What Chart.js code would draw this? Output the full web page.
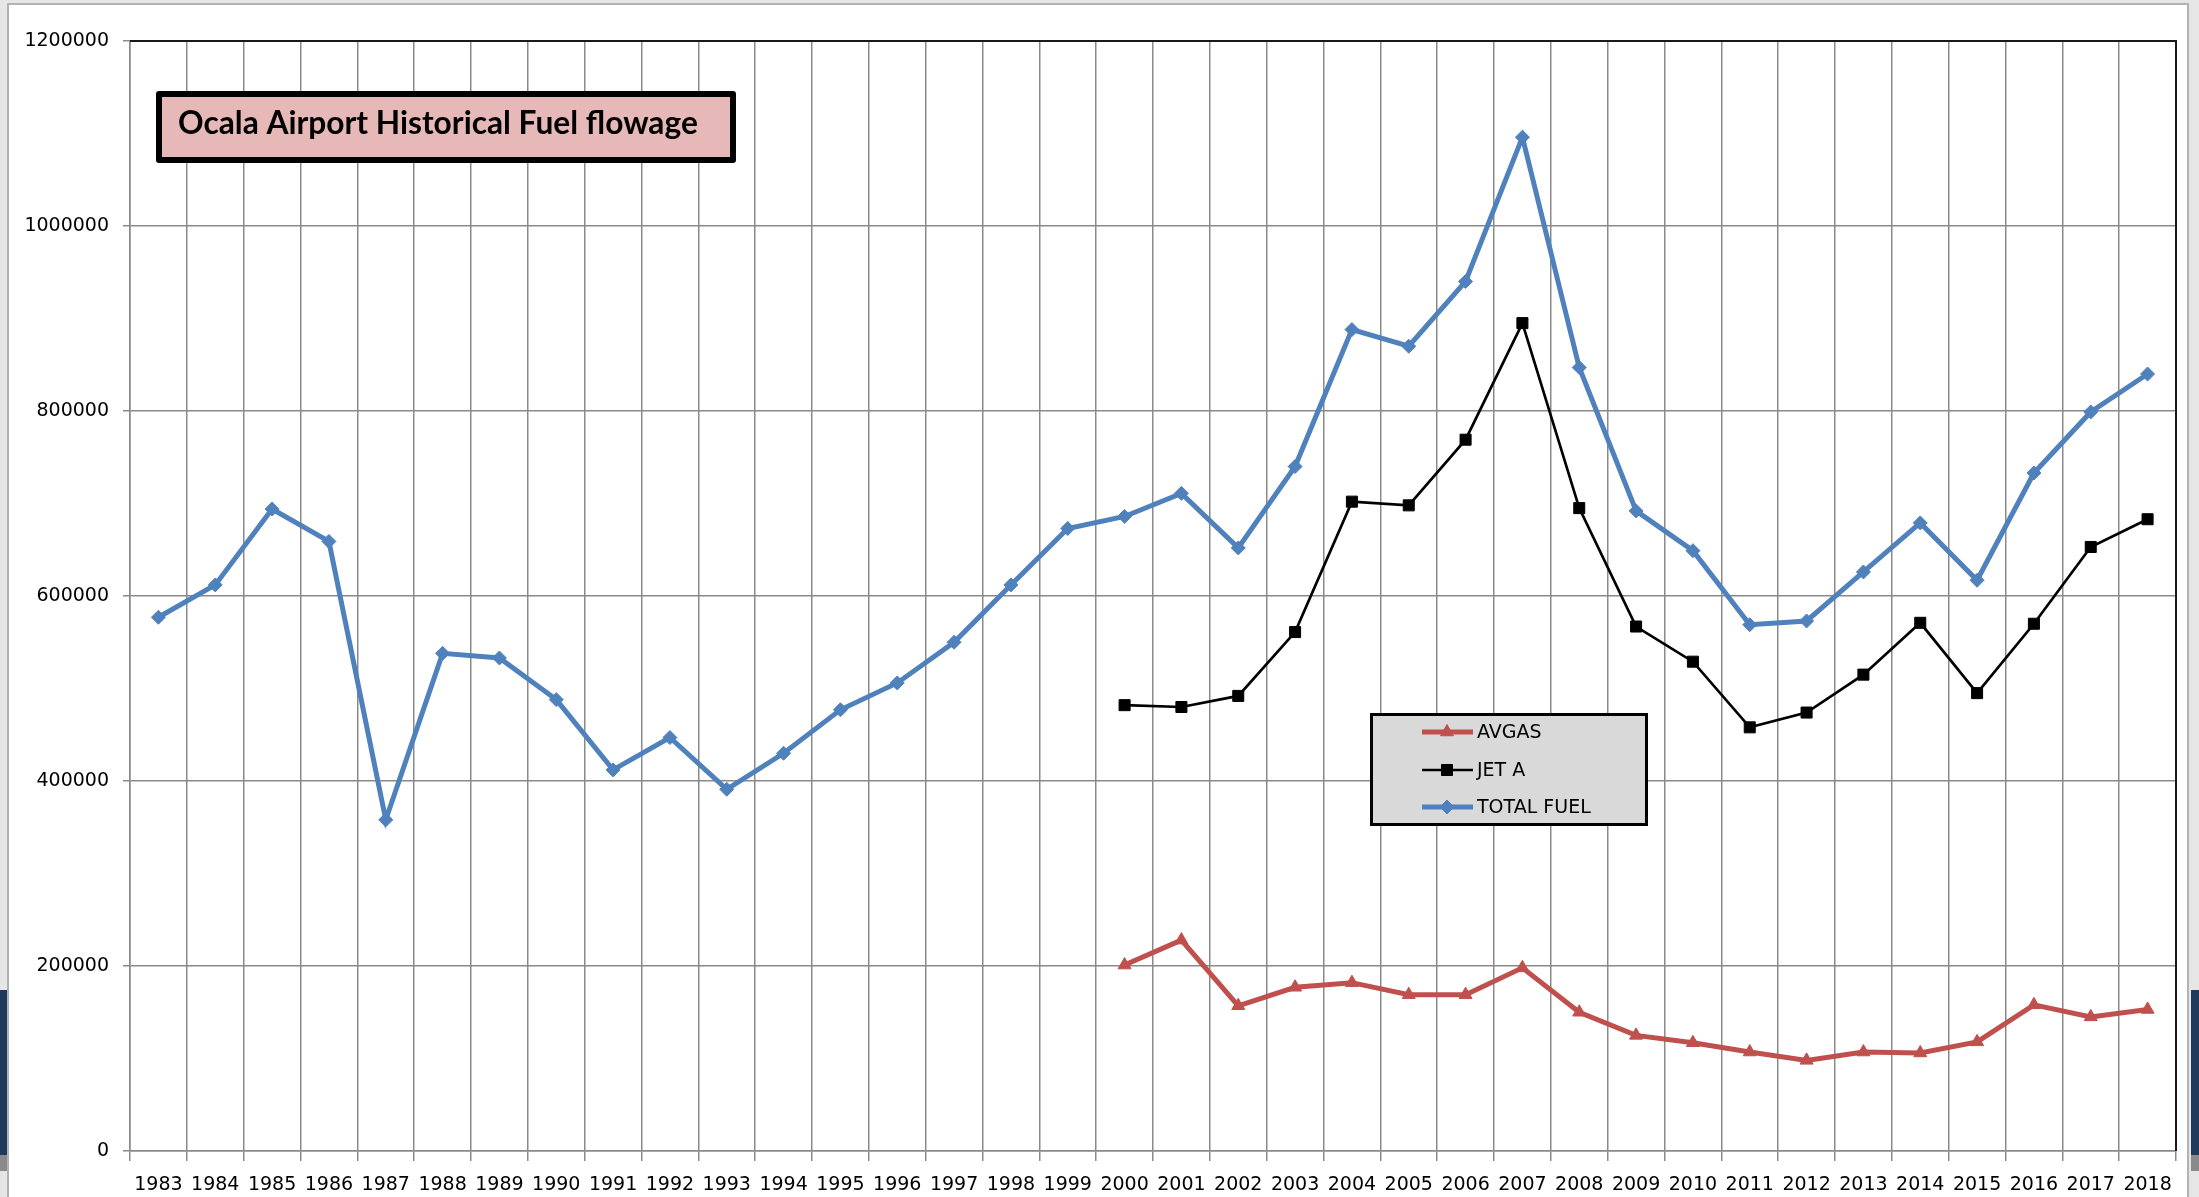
<!DOCTYPE html>
<html>
<head>
<meta charset="utf-8">
<script src="https://cdn.jsdelivr.net/npm/chart.js@4.4.1/dist/chart.umd.min.js"></script>
<style>
  html, body { margin:0; padding:0; width:2199px; height:1197px; overflow:hidden; background:#e6e6e6; }
  #frame { position:absolute; left:7px; top:3px; width:2182px; height:1230px; background:#ffffff; border:2px solid #b2b2b2; box-sizing:border-box; }
  .strip { position:absolute; width:7px; }
  #cv { position:absolute; left:0; top:0; }
</style>
</head>
<body>
<div id="frame"></div>
<div class="strip" style="left:0;top:990px;height:165px;background:#1f3a5b;"></div>
<div class="strip" style="left:0;top:1155px;height:16px;background:#8a8a8a;"></div>
<div class="strip" style="left:2191px;width:8px;top:990px;height:165px;background:#1f3a5b;"></div>
<div class="strip" style="left:2191px;width:8px;top:1155px;height:16px;background:#8a8a8a;"></div>
<canvas id="cv" width="2199" height="1197"></canvas>
<script>
// ---- data ----
const years = ['1983','1984','1985','1986','1987','1988','1989','1990','1991','1992','1993','1994',
  '1995','1996','1997','1998','1999','2000','2001','2002','2003','2004','2005','2006','2007','2008',
  '2009','2010','2011','2012','2013','2014','2015','2016','2017','2018'];

const avgas = [null,null,null,null,null,null,null,null,null,null,null,null,null,null,null,null,null,
  201000,228000,157000,177000,182000,169000,169000,198000,150000,125000,117000,107000,98000,107000,
  106000,118000,158000,145000,153000];

const jetA = [null,null,null,null,null,null,null,null,null,null,null,null,null,null,null,null,null,
  482000,480000,492000,561000,702000,698000,769000,895000,695000,567000,529000,458000,474000,515000,
  571000,495000,570000,653000,683000];

const totalFuel = [577000,612000,694000,659000,358000,538000,533000,488000,412000,447000,391000,430000,
  477000,506000,550000,612000,673000,686000,711000,652000,740000,888000,870000,940000,1096000,847000,
  692000,649000,569000,573000,626000,679000,617000,733000,799000,840000];

const yTicks = [0,200000,400000,600000,800000,1000000,1200000];
const chartTitle = 'Ocala Airport Historical Fuel flowage';

// ---- styles ----
const C_AVGAS = '#C0504D', C_JET = '#000000', C_TOTAL = '#4F81BD';
const GRID = '#8a8a8a';
const tickFont = { family: "'DejaVu Sans', 'Liberation Sans', sans-serif", size: 19 };

const overlay = {
  id: 'overlay',
  afterDraw(chart) {
    const { ctx, chartArea: a } = chart;
    ctx.save();
    // plot area top & right border
    ctx.strokeStyle = '#1a1a1a';
    ctx.lineWidth = 2;
    ctx.beginPath();
    ctx.moveTo(a.left, a.top);
    ctx.lineTo(a.right, a.top);
    ctx.lineTo(a.right, a.bottom);
    ctx.stroke();

    // title box
    ctx.lineJoin = 'round';
    ctx.fillStyle = '#E6B9B8';
    ctx.fillRect(159, 94, 574, 66);
    ctx.strokeStyle = '#000';
    ctx.lineWidth = 6;
    ctx.strokeRect(159, 94, 574, 66);
    const fam = "Lato, 'Open Sans', sans-serif";
    ctx.font = 'bold 28px ' + fam;
    const w28 = ctx.measureText(chartTitle).width;
    const fs = 28 * 520 / w28;
    ctx.font = 'bold ' + fs.toFixed(2) + 'px ' + fam;
    ctx.fillStyle = '#000';
    ctx.textBaseline = 'alphabetic';
    ctx.textAlign = 'left';
    ctx.fillText(chartTitle, 178, 134);

    // legend box
    ctx.fillStyle = '#D9D9D9';
    ctx.fillRect(1371.5, 714.5, 275, 110);
    ctx.strokeStyle = '#000';
    ctx.lineWidth = 3;
    ctx.lineJoin = 'miter';
    ctx.strokeRect(1371.5, 714.5, 275, 110);
    const rows = [732, 770, 807];
    chart.data.datasets.forEach((ds, i) => {
      const y = rows[i];
      ctx.strokeStyle = ds.borderColor;
      ctx.lineWidth = ds.borderWidth;
      ctx.lineCap = 'butt';
      ctx.beginPath();
      ctx.moveTo(1422, y);
      ctx.lineTo(1473, y);
      ctx.stroke();
      ctx.fillStyle = ds.pointBackgroundColor;
      ctx.strokeStyle = ds.pointBorderColor;
      ctx.lineWidth = ds.pointBorderWidth;
      Chart.helpers.drawPoint(ctx, { pointStyle: ds.pointStyle, radius: ds.pointRadius, rotation: 0, borderWidth: ds.pointBorderWidth }, 1447, y);
      ctx.fillStyle = '#000';
      ctx.font = '19px ' + tickFont.family;
      ctx.textBaseline = 'middle';
      ctx.fillText(ds.label, 1477, y + 1);
    });
    ctx.restore();
  }
};

const mk = (label, data, color, width, style, radius) => ({
  label, data,
  borderColor: color, backgroundColor: color,
  borderWidth: width,
  pointStyle: style, pointRadius: radius, pointHoverRadius: radius,
  pointBackgroundColor: color, pointBorderColor: color, pointBorderWidth: 1,
  tension: 0, spanGaps: false
});

new Chart(document.getElementById('cv'), {
  type: 'line',
  data: {
    labels: years,
    datasets: [
      mk('AVGAS', avgas, C_AVGAS, 5, 'triangle', 7.5),
      mk('JET A', jetA, C_JET, 2.7, 'rect', 7.8),
      mk('TOTAL FUEL', totalFuel, C_TOTAL, 5, 'rectRot', 7)
    ]
  },
  options: {
    responsive: false,
    animation: false,
    devicePixelRatio: 1,
    layout: { padding: { left: 0, top: 41, right: 23, bottom: 0 } },
    plugins: { legend: { display: false }, title: { display: false }, tooltip: { enabled: false } },
    scales: {
      x: {
        type: 'category',
        offset: true,
        grid: { offset: true, color: GRID, lineWidth: 1.5, tickLength: 10, drawTicks: true },
        border: { color: GRID, width: 1.5 },
        ticks: { font: tickFont, color: '#000', padding: 13, maxRotation: 0, minRotation: 0, autoSkip: false },
        afterFit(s) { s.height = 46; }
      },
      y: {
        min: 0, max: 1200000,
        afterBuildTicks(s) { s.ticks = yTicks.map(v => ({ value: v })); },
        grid: { color: GRID, lineWidth: 1.5, tickLength: 7, drawTicks: true },
        border: { color: GRID, width: 1.5 },
        ticks: { font: tickFont, color: '#000', padding: 14, callback: v => String(v) },
        afterFit(s) { s.width = 130; }
      }
    }
  },
  plugins: [overlay]
});
</script>
</body>
</html>
